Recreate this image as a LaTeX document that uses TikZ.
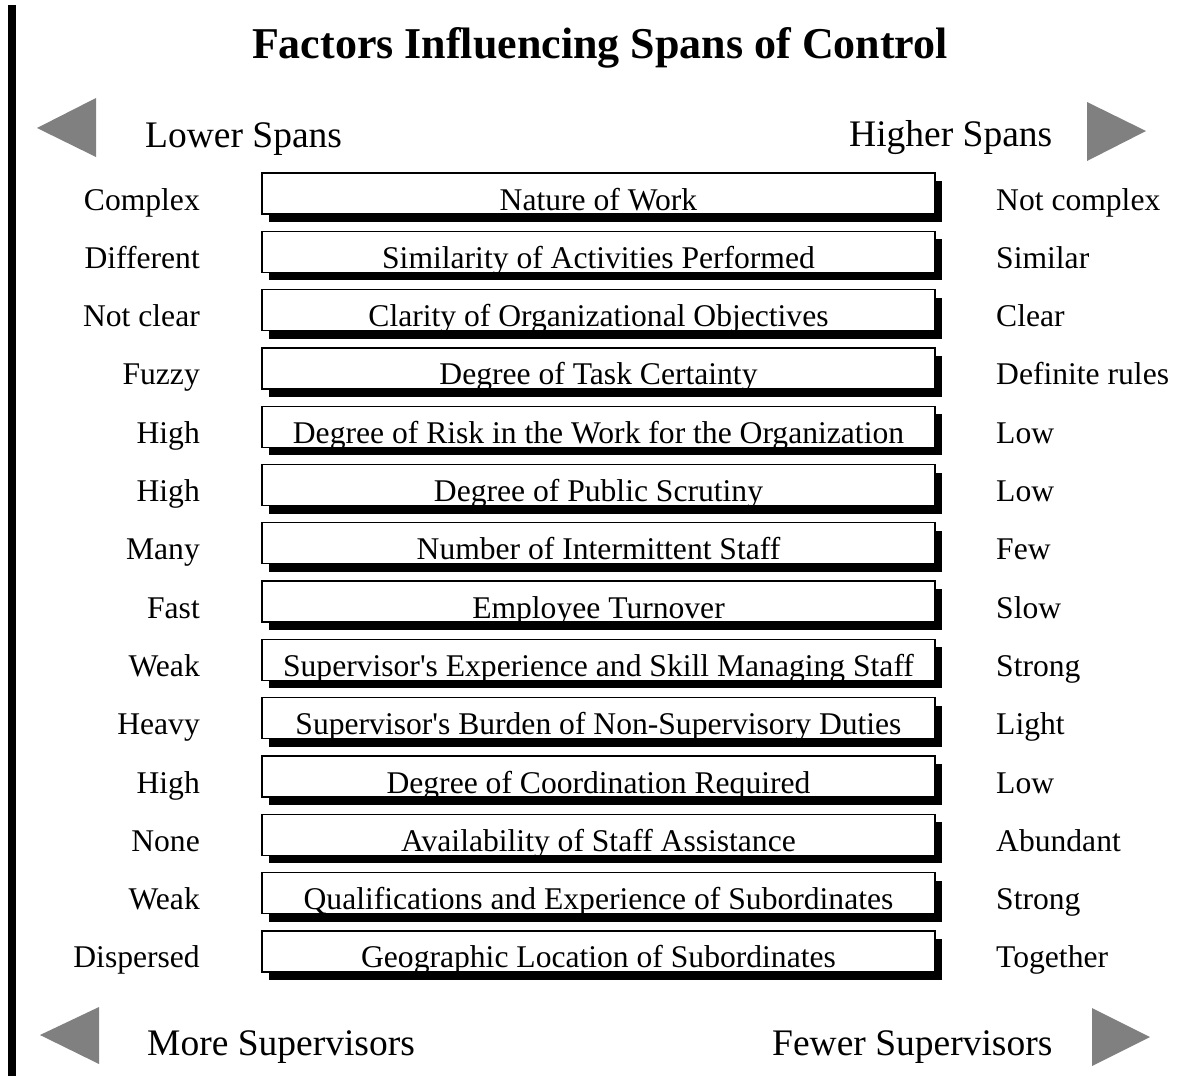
\documentclass[tikz,border=0pt]{standalone}
\usepackage{fontspec}
\setmainfont{Liberation Serif}
\usetikzlibrary{shadows}
\definecolor{arrowgray}{HTML}{808080}
\begin{document}
\begin{tikzpicture}[x=1pt,y=-1pt,
  rowfont/.style={font=\fontsize{31.6}{31.6}\selectfont},
  factor/.style={rowfont, draw=black, line width=1.3pt, fill=white,
    minimum width=673pt, inner sep=0pt, text height=37pt, text depth=4pt,
    drop shadow={shadow xshift=7pt, shadow yshift=-8pt, fill=black, opacity=1}},
  lowside/.style={rowfont, anchor=base east, inner sep=0pt},
  highside/.style={rowfont, anchor=base west, inner sep=0pt},
  dirlabel/.style={font=\fontsize{37.5}{37.5}\selectfont, anchor=base west, inner sep=0pt},
  pointer/.style={fill=arrowgray},
  title/.style={font=\fontsize{44}{44}\selectfont\bfseries, anchor=base, inner sep=0pt}]
  % page frame
  \useasboundingbox (0,0) rectangle (1180,1076);
  \fill[black] (8,5) rectangle (16,1076);

  % heading
  \node[title] (title) at (600,58) {Factors Influencing Spans of Control};

  % direction pointers and captions
  \fill[pointer] (37,128) -- (96,98) -- (96,157) -- cycle;
  \fill[pointer] (1146,131) -- (1087,102) -- (1087,161) -- cycle;
  \fill[pointer] (40,1035) -- (99,1007) -- (99,1064) -- cycle;
  \fill[pointer] (1150,1037) -- (1092,1008) -- (1092,1066) -- cycle;
  \node[dirlabel] (lower)  at (145,147)  {Lower Spans};
  \node[dirlabel] (higher) at (849,146)  {Higher Spans};
  \node[dirlabel] (more)   at (147,1055) {More Supervisors};
  \node[dirlabel] (fewer)  at (772,1055) {Fewer Supervisors};

  % factor rows
  \foreach \i/\low/\fac/\high in {
    1/Complex/Nature of Work/Not complex,
    2/Different/Similarity of Activities Performed/Similar,
    3/Not clear/Clarity of Organizational Objectives/Clear,
    4/Fuzzy/Degree of Task Certainty/Definite rules,
    5/High/Degree of Risk in the Work for the Organization/Low,
    6/High/Degree of Public Scrutiny/Low,
    7/Many/Number of Intermittent Staff/Few,
    8/Fast/Employee Turnover/Slow,
    9/Weak/Supervisor\textquotesingle s Experience and Skill Managing Staff/Strong,
    10/Heavy/Supervisor\textquotesingle s Burden of Non-Supervisory Duties/Light,
    11/High/Degree of Coordination Required/Low,
    12/None/Availability of Staff Assistance/Abundant,
    13/Weak/Qualifications and Experience of Subordinates/Strong,
    14/Dispersed/Geographic Location of Subordinates/Together}{
    \pgfmathsetmacro{\top}{173+58.3*(\i-1)}
    \node[factor] (f\i) at (598.5,\top+20.5) {\fac};
    \node[lowside] (l\i) at (200,\top+37) {\low};
    \node[highside] (h\i) at (996,\top+37) {\high};
  }
\end{tikzpicture}
\end{document}
